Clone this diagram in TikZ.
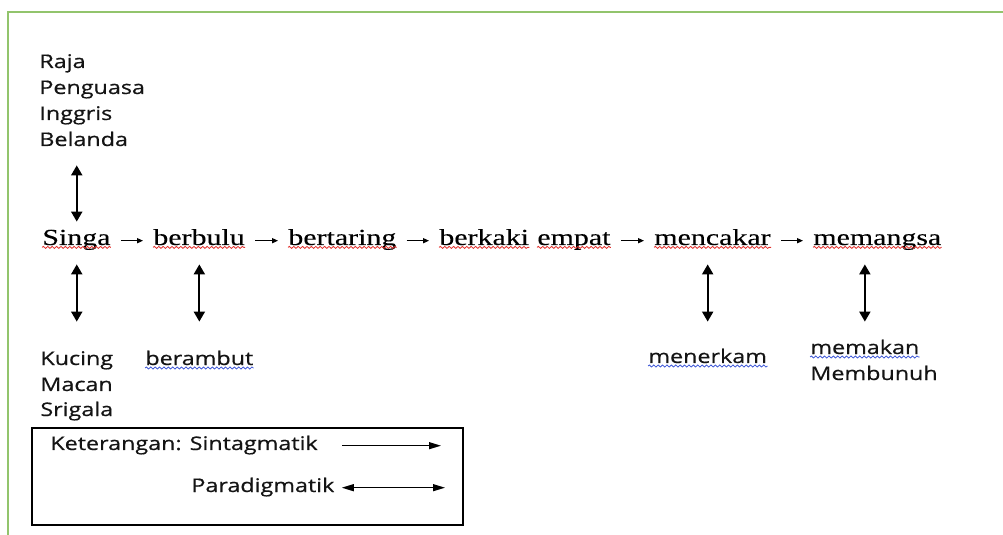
\documentclass[tikz,border=0pt]{standalone}
\usepackage{fontspec}
\usepackage{tikz}
\usetikzlibrary{arrows.meta,decorations.pathmorphing}

\newfontfamily\kalimat[FakeStretch=1.3,FakeBold=0.3]{Liberation Serif}
\newfontfamily\daftar[FakeStretch=1.24,FakeBold=0.6]{Open Sans}
\definecolor{bingkai}{RGB}{146,196,108}
\definecolor{ejaan}{RGB}{226,48,44}
\definecolor{tata}{RGB}{58,84,214}

\tikzset{
  kata/.style={anchor=base west, inner sep=0pt, font=\kalimat\fontsize{11.5}{14}\selectfont,
    text height=7.5pt, text depth=2.5pt},
  pilihan/.style={anchor=base west, inner sep=0pt, font=\daftar\fontsize{9.4}{12}\selectfont,
    text height=7.5pt, text depth=2.5pt, text=black!92},
  sintag/.style={-{Triangle[length=3pt,width=2.6pt]}, line width=0.5pt, shorten <=5pt, shorten >=5pt},
  para/.style={{Triangle[length=5pt,width=5.5pt]}-{Triangle[length=5pt,width=5.5pt]}, line width=1pt,
    shorten <=7pt, shorten >=14pt},
  merah/.style={ejaan, line width=0.4pt, decorate, decoration={snake, amplitude=0.5pt, segment length=2.2pt}},
  biru/.style={merah, tata}
}

\begin{document}
\begin{tikzpicture}[x=0.5pt, y=-0.5pt]
   \useasboundingbox (0,0) rectangle (1003,535);
   \draw[bingkai, line width=1pt] (8,535) -- (8,12) -- (1003,12);

   \node[kata] (singa) at (42,245) {Singa};
   \node[kata] (berbulu) at (153,245) {berbulu};
   \node[kata] (bertaring) at (288,245) {bertaring};
   \node[kata] (berkaki) at (439,245) {berkaki};
   \node[kata] (empat) at (537,245) {empat};
   \node[kata] (mencakar) at (654,245) {mencakar};
   \node[kata] (memangsa) at (813,245) {memangsa};

   \node[pilihan] (raja) at (39,68) {Raja};
   \node[pilihan] (penguasa) at (39,94) {Penguasa};
   \node[pilihan] (inggris) at (39,120) {Inggris};
   \node[pilihan] (belanda) at (39,146) {Belanda};
   \node[pilihan] (kucing) at (40,365) {Kucing};
   \node[pilihan] (macan) at (40,391) {Macan};
   \node[pilihan] (srigala) at (40,416) {Srigala};
   \node[pilihan] (berambut) at (145,365) {berambut};
   \node[pilihan] (menerkam) at (648,363) {menerkam};
   \node[pilihan] (memakan) at (810,354) {memakan};
   \node[pilihan] (membunuh) at (810,380) {Membunuh};

   \foreach \w in {singa,berbulu,bertaring,berkaki,empat,mencakar,memangsa}
      \draw[merah] ([yshift=-1.2pt]\w.base west) -- ([yshift=-1.2pt]\w.base east);
   \foreach \w in {berambut,menerkam,memakan}
      \draw[biru] ([yshift=-1.5pt]\w.base west) -- ([yshift=-1.5pt]\w.base east);

   \foreach \a/\b in {singa/berbulu,berbulu/bertaring,bertaring/berkaki,empat/mencakar,mencakar/memangsa}
      \draw[sintag] (\a.mid east) -- (\b.mid west);

   \draw[para, shorten >=4pt] (belanda.south -| kucing.north) -- (singa.north -| kucing.north);
   \draw[para] (singa.south -| kucing.north) -- (kucing.north);
   \draw[para] (berbulu.south -| berambut.north) -- (berambut.north);
   \draw[para, shorten >=13pt] (mencakar.south -| menerkam.north) -- (menerkam.north);
   \draw[para, shorten >=8.5pt] (memangsa.south -| memakan.north) -- (memakan.north);

   \node[draw, line width=0.8pt, inner sep=0pt, minimum width=215.5pt, minimum height=48.5pt,
      anchor=north west] (legenda) at (31,427) {};
   \node[pilihan] (keterangan) at (50,450) {Keterangan: Sintagmatik};
   \node[pilihan] (paradigma) at (191,492) {Paradigmatik};
   \coordinate (ujungsin) at (441,447);
   \coordinate (ujungpar) at (445,489);
   \draw[-{Triangle[length=6pt,width=3.5pt]}, line width=0.6pt, shorten <=12pt]
      (keterangan.mid east) -- (keterangan.mid east -| ujungsin);
   \draw[{Triangle[length=6pt,width=3.5pt]}-{Triangle[length=6pt,width=3.5pt]}, line width=0.6pt,
      shorten <=3.5pt] (paradigma.mid east) -- (paradigma.mid east -| ujungpar);
\end{tikzpicture}
\end{document}
